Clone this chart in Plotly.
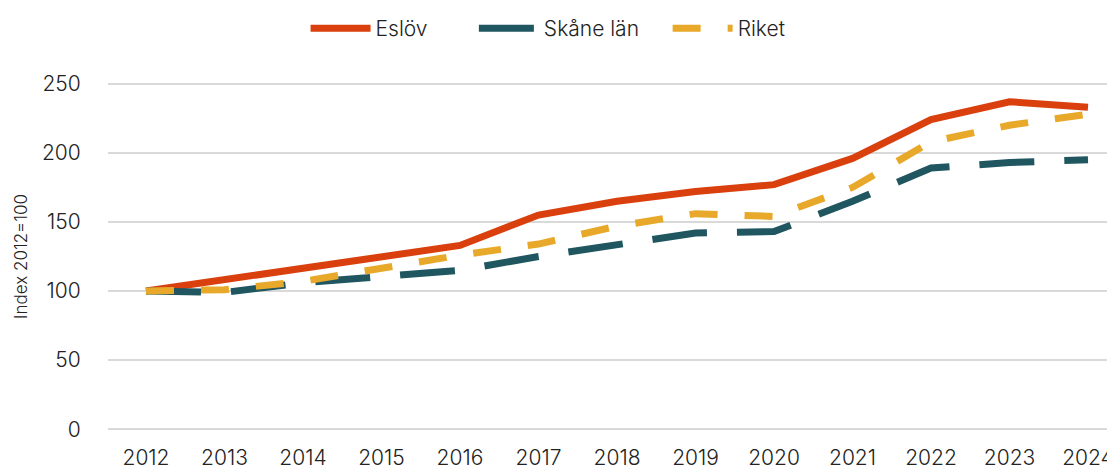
import plotly.graph_objects as go

years = [2012, 2013, 2014, 2015, 2016, 2017, 2018, 2019, 2020, 2021, 2022, 2023, 2024]
eslov = [100, 108, 116, 125, 133, 155, 165, 172, 177, 196, 224, 237, 233]
skane = [100, 99, 106, 111, 115, 125, 134, 142, 143, 165, 189, 193, 195]
riket = [100, 101, 107, 117, 126, 134, 147, 156, 154, 175, 208, 220, 228]
y_ticks = [0, 50, 100, 150, 200, 250]

font = "Inter, Lato, sans-serif"
fig = go.Figure()
fig.add_trace(go.Scatter(x=years, y=eslov, name="Eslöv" + "\u00a0" * 7, mode="lines",
                         line=dict(color="#D9400E", width=7)))
fig.add_trace(go.Scatter(x=years, y=skane, name="Skåne län" + "\u00a0" * 4, mode="lines",
                         line=dict(color="#1F5660", width=7, dash="55px,30px")))
fig.add_trace(go.Scatter(x=years, y=riket, name="Riket", mode="lines",
                         line=dict(color="#E8A92A", width=7, dash="28px,27px")))

# page has an 8px body offset: figure occupies page px 8..1115 x 8..470
# plot area target (page px): x 108..1115, y 84 (=250) .. 429 (=0)
off = 8
pad = 2.0
ppu = 345 / 250.0
W, H = 1115 - off, 470 - off
fig.update_layout(
    width=W, height=H,
    margin=dict(l=108 - off, r=0, t=int(round(84 - off - pad * ppu)),
                b=int(round(470 - 429 - pad * ppu)), autoexpand=False),
    paper_bgcolor="white", plot_bgcolor="white",
    font=dict(family=font, size=21, color="#222222", weight=300),
    showlegend=True,
    legend=dict(orientation="h", x=0.437, xanchor="center", y=1.0, yanchor="top",
                yref="container", font=dict(size=21, weight=300), traceorder="normal",
                itemwidth=60),
    xaxis=dict(range=[2011.516, 2024.344], tickmode="array", tickvals=years,
               ticktext=[str(y) for y in years], showgrid=False, zeroline=False,
               showline=False, ticks="outside", ticklen=7, tickcolor="white",
               tickfont=dict(size=21, weight=300), automargin=False),
    yaxis=dict(range=[-pad, 250 + pad], tickmode="array", tickvals=y_ticks,
               showgrid=True, gridcolor="#D9D9D9", gridwidth=2, zeroline=False,
               showline=False, ticks="outside", ticklen=22, tickcolor="white",
               tickfont=dict(size=21, weight=300), automargin=False,
               title=dict(text="Index 2012=100", font=dict(size=17, weight=300), standoff=10)),
)
fig.write_html("out.html")
